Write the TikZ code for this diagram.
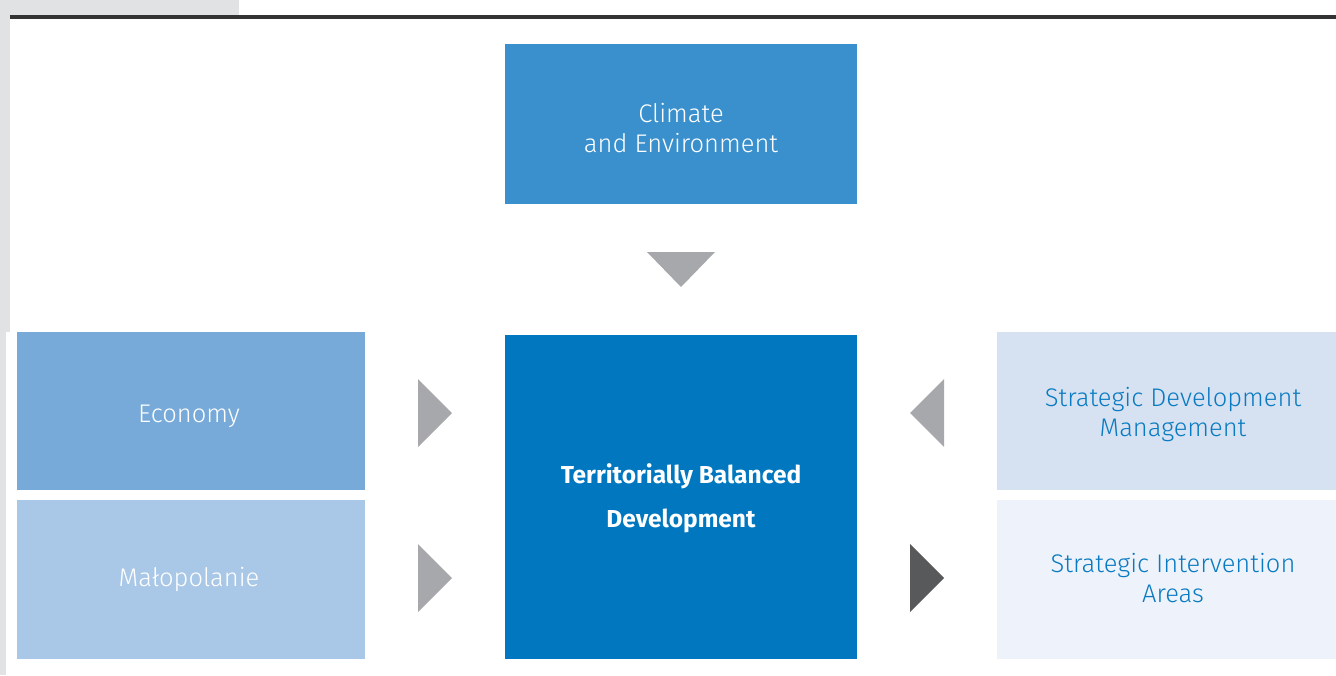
\documentclass[tikz,border=0pt]{standalone}
\usepackage{fontspec}
\setmainfont{Fira Sans}
\newfontfamily\lightfont{Fira Sans Light}
\definecolor{panelgray}{HTML}{E1E2E4}
\definecolor{rulegray}{HTML}{333333}
\definecolor{climateblue}{HTML}{3A90CC}
\definecolor{centerblue}{HTML}{0077BE}
\definecolor{econblue}{HTML}{78AAD9}
\definecolor{maloblue}{HTML}{A9C7E6}
\definecolor{sdmblue}{HTML}{D6E1F2}
\definecolor{siablue}{HTML}{EEF2FA}
\definecolor{textblue}{HTML}{0A7BC1}
\definecolor{arrowgray}{HTML}{A7A8AB}
\definecolor{arrowdark}{HTML}{58595B}
\tikzset{
  box/.style={rectangle, inner sep=0pt, outer sep=0pt},
  lbl/.style={inner sep=0pt, align=center, font=\lightfont\fontsize{25.5}{30}\selectfont},
  tri/.style={fill=arrowgray, draw=none},
  tridark/.style={fill=arrowdark, draw=none}
}
\begin{document}
\begin{tikzpicture}[x=1pt,y=-1pt]
\useasboundingbox (0,0) rectangle (1336,675);
% background panel
\fill[panelgray] (0,0) rectangle (239,16);
\fill[panelgray] (0,0) rectangle (10,332);
\fill[panelgray] (0,0) rectangle (6,675);
\fill[rulegray] (10,15) rectangle (1336,18.5);
% boxes
\node[box, fill=climateblue, minimum width=352pt, minimum height=160pt] (climate) at (681,124) {};
\node[box, fill=centerblue, minimum width=352pt, minimum height=324pt] (center) at (681,497) {};
\node[box, fill=econblue, minimum width=348pt, minimum height=158pt] (econ) at (191,411) {};
\node[box, fill=maloblue, minimum width=348pt, minimum height=159pt] (malo) at (191,579.5) {};
\node[box, fill=sdmblue, minimum width=339pt, minimum height=158pt] (sdm) at (1166.5,411) {};
\node[box, fill=siablue, minimum width=339pt, minimum height=159pt] (sia) at (1166.5,579.5) {};
% labels
\node[lbl, text=white] (climatetxt) at ([yshift=-4pt]climate.center) {Climate\\and Environment};
\node[lbl, text=white, font=\bfseries\fontsize{24.5}{44}\selectfont] (centertxt) at ([yshift=-1pt]center.center) {Territorially Balanced\\Development};
\node[lbl, text=white] (econtxt) at ([xshift=-2pt,yshift=-5pt]econ.center) {Economy};
\node[lbl, text=white] (malotxt) at ([xshift=-2pt,yshift=0pt]malo.center) {Małopolanie};
\node[lbl, text=textblue] (sdmtxt) at ([xshift=6.5pt,yshift=-4pt]sdm.center) {Strategic Development\\Management};
\node[lbl, text=textblue] (siatxt) at ([xshift=6.5pt,yshift=1.5pt]sia.center) {Strategic Intervention\\Areas};
% arrowheads
\fill[tri] (647,252) -- (715,252) -- (681,287) -- cycle;
\fill[tri] (418,379) -- (452,413) -- (418,447) -- cycle;
\fill[tri] (418,544) -- (452,578) -- (418,612) -- cycle;
\fill[tri] (944,379) -- (910,413) -- (944,447) -- cycle;
\fill[tridark] (910,544) -- (944,578) -- (910,612) -- cycle;
\end{tikzpicture}
\end{document}
